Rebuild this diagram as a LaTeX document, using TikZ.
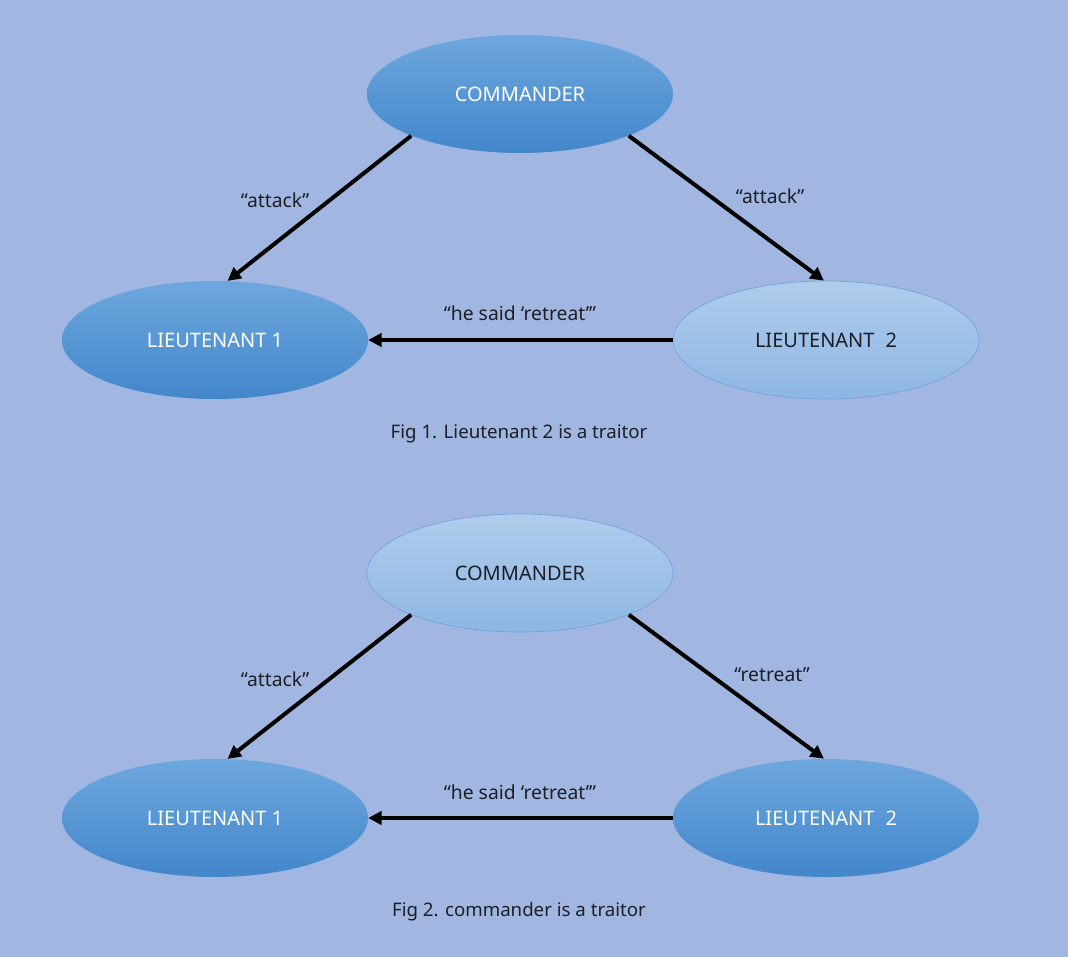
\documentclass[tikz,border=0pt]{standalone}
\usepackage{fontspec}
\setmainfont{Noto Sans}
\usetikzlibrary{shapes.geometric,arrows.meta}
\definecolor{bg}{HTML}{A1B6E0}
\definecolor{darktop}{HTML}{6EA7DE}
\definecolor{darkbot}{HTML}{4287CB}
\definecolor{lighttop}{HTML}{B0CCEB}
\definecolor{lightbot}{HTML}{8EB7E5}
\definecolor{lightline}{HTML}{6FA3DC}
\definecolor{ink}{HTML}{1E1E26}
\tikzset{
  base/.style={ellipse, minimum width=229.5pt, minimum height=88.5pt, inner sep=0pt, font=\fontsize{15}{18}\selectfont},
  darknode/.style={base, top color=darktop, bottom color=darkbot, draw=none, text=white},
  lightnode/.style={base, top color=lighttop, bottom color=lightbot, draw=lightline, line width=0.5pt, text=ink},
  arr/.style={line width=3pt, -{Triangle[length=10pt,width=10pt]}},
  lbl/.style={font=\fontsize{14.5}{17}\selectfont, text=ink},
  captext/.style={font=\fontsize{14}{17}\selectfont, text=ink}
}
\begin{document}
\begin{tikzpicture}[x=0.75pt,y=-0.75pt]
\fill[bg] (0,0) rectangle (1068,957);
\useasboundingbox (0,0) rectangle (1068,957);
% Figure 1
\node[darknode] (c1) at (520,94) {COMMANDER};
\node[darknode] (a1) at (215,340) {LIEUTENANT 1};
\node[lightnode] (b1) at (826,340) {LIEUTENANT\hspace{0.55em}2};
\draw[arr] (c1.201) -- (a1.78);
\draw[arr] (c1.339) -- (b1.92);
\draw[arr] (b1.west) -- (a1.east);
\node[lbl] (t1) at (275,200) {“attack”};
\node[lbl] (t2) at (770,196) {“attack”};
\node[lbl] (t3) at (520,313) {“he said ‘retreat’”};
\node[captext] (f1) at (519,434) {Fig 1. Lieutenant 2 is a traitor};
% Figure 2
\node[lightnode] (c2) at (520,573) {COMMANDER};
\node[darknode] (a2) at (215,818) {LIEUTENANT 1};
\node[darknode] (b2) at (826,818) {LIEUTENANT\hspace{0.55em}2};
\draw[arr] (c2.201) -- (a2.78);
\draw[arr] (c2.339) -- (b2.92);
\draw[arr] (b2.west) -- (a2.east);
\node[lbl] (t4) at (275,679) {“attack”};
\node[lbl] (t5) at (772,675) {“retreat”};
\node[lbl] (t6) at (520,792) {“he said ‘retreat’”};
\node[captext] (f2) at (519,912) {Fig 2. commander is a traitor};
\end{tikzpicture}
\end{document}
